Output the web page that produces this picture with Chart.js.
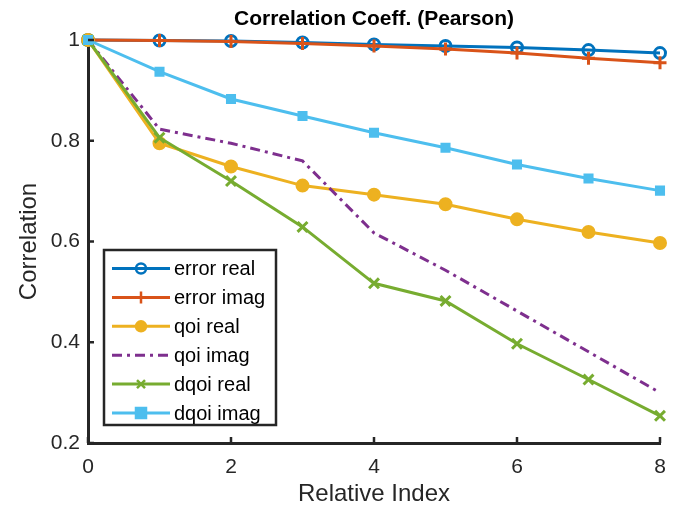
<!DOCTYPE html>
<html>
<head>
<meta charset="utf-8">
<script src="https://cdn.jsdelivr.net/npm/chart.js"></script>
<style>
  html, body { margin: 0; padding: 0; background: #fff; }
  #wrap { width: 678px; height: 514px; }
</style>
</head>
<body>
<div id="wrap"><canvas id="chart" width="678" height="514"></canvas></div>
<script>
const X_VALUES = [0, 1, 2, 3, 4, 5, 6, 7, 8];
const X_TICKS = [0, 2, 4, 6, 8];
const Y_TICKS = [0.2, 0.4, 0.6, 0.8, 1];

const ERROR_REAL = [1, 0.999, 0.998, 0.995, 0.991, 0.988, 0.985, 0.98, 0.974];
const ERROR_IMAG = [1, 0.999, 0.997, 0.993, 0.988, 0.982, 0.974, 0.964, 0.955];
const QOI_REAL = [1, 0.795, 0.749, 0.711, 0.693, 0.674, 0.644, 0.619, 0.597];
const QOI_IMAG = [1, 0.823, 0.795, 0.76, 0.617, 0.543, 0.462, 0.381, 0.3];
const DQOI_REAL = [1, 0.806, 0.72, 0.629, 0.517, 0.482, 0.397, 0.326, 0.254];
const DQOI_IMAG = [1, 0.937, 0.883, 0.849, 0.816, 0.786, 0.753, 0.725, 0.701];

const SERIES_NAMES = ["error real", "error imag", "qoi real", "qoi imag", "dqoi real", "dqoi imag"];

const AXIS_COLOR = "#262626";
const FONT = "'Liberation Sans', Arial, Helvetica, sans-serif";

const toPoints = (values) => values.map((y, i) => ({ x: X_VALUES[i], y }));

const STYLES = [
  { color: "#0072BD", marker: "circle", fill: false, r: 5.5 },
  { color: "#D95319", marker: "cross", fill: false, r: 6.5 },
  { color: "#EDB120", marker: "circle", fill: true, r: 5.5 },
  { color: "#7E2F8E", marker: false, dash: [10, 5, 3, 5] },
  { color: "#77AC30", marker: "crossRot", fill: false, r: 7 },
  { color: "#4DBEEE", marker: "rect", fill: true, r: 5 },
];

const SERIES = [ERROR_REAL, ERROR_IMAG, QOI_REAL, QOI_IMAG, DQOI_REAL, DQOI_IMAG];

const datasets = SERIES.map((values, i) => {
  const s = STYLES[i];
  return {
    label: SERIES_NAMES[i],
    data: toPoints(values),
    borderColor: s.color,
    backgroundColor: s.color,
    borderWidth: 3,
    borderDash: s.dash || [],
    pointStyle: s.marker || false,
    pointRadius: s.marker ? s.r : 0,
    pointBorderWidth: 3,
    pointBackgroundColor: s.fill ? s.color : "rgba(0,0,0,0)",
    pointBorderColor: s.color,
    tension: 0,
    clip: false,
    order: SERIES.length - 1 - i,
  };
});

// draw one marker, used by the legend
const drawMarker = (ctx, s, x, y) => {
  if (!s.marker) return;
  ctx.save();
  ctx.strokeStyle = s.color;
  ctx.fillStyle = s.color;
  ctx.lineWidth = 2.5;
  ctx.setLineDash([]);
  ctx.beginPath();
  if (s.marker === "circle") {
    ctx.arc(x, y, 5, 0, Math.PI * 2);
    if (s.fill) ctx.fill();
    ctx.stroke();
  } else if (s.marker === "cross") {
    ctx.moveTo(x - 6, y); ctx.lineTo(x + 6, y);
    ctx.moveTo(x, y - 6); ctx.lineTo(x, y + 6);
    ctx.stroke();
  } else if (s.marker === "crossRot") {
    ctx.moveTo(x - 4, y - 4); ctx.lineTo(x + 4, y + 4);
    ctx.moveTo(x + 4, y - 4); ctx.lineTo(x - 4, y + 4);
    ctx.stroke();
  } else if (s.marker === "rect") {
    ctx.rect(x - 5, y - 5, 10, 10);
    ctx.fill();
    ctx.stroke();
  }
  ctx.restore();
};

const decorPlugin = {
  id: "decor",
  afterDraw(chart) {
    const { ctx, chartArea, scales } = chart;
    const xs = scales.x;
    const ys = scales.y;

    // inward tick marks
    ctx.save();
    ctx.strokeStyle = AXIS_COLOR;
    ctx.lineWidth = 2.5;
    ctx.beginPath();
    X_TICKS.forEach((v) => {
      const px = xs.getPixelForValue(v);
      ctx.moveTo(px, chartArea.bottom);
      ctx.lineTo(px, chartArea.bottom - 6);
    });
    Y_TICKS.forEach((v) => {
      const py = ys.getPixelForValue(v);
      ctx.moveTo(chartArea.left, py);
      ctx.lineTo(chartArea.left + 6, py);
    });
    ctx.stroke();
    ctx.restore();

    // title centred over the plot
    ctx.save();
    ctx.fillStyle = "#000";
    ctx.font = `bold 21px ${FONT}`;
    ctx.textAlign = "center";
    ctx.textBaseline = "middle";
    ctx.fillText("Correlation Coeff. (Pearson)", (chartArea.left + chartArea.right) / 2, 19);
    ctx.restore();

    // legend box
    const box = { x: 104, y: 250, w: 172, h: 175 };
    ctx.save();
    ctx.fillStyle = "#fff";
    ctx.fillRect(box.x, box.y, box.w, box.h);
    ctx.strokeStyle = AXIS_COLOR;
    ctx.lineWidth = 2.5;
    ctx.strokeRect(box.x, box.y, box.w, box.h);
    ctx.font = `20px ${FONT}`;
    ctx.textBaseline = "middle";
    SERIES_NAMES.forEach((name, i) => {
      const s = STYLES[i];
      const y = 268.5 + i * 28.9;
      ctx.strokeStyle = s.color;
      ctx.lineWidth = 3;
      ctx.setLineDash(s.dash || []);
      ctx.beginPath();
      ctx.moveTo(112, y);
      ctx.lineTo(170, y);
      ctx.stroke();
      ctx.setLineDash([]);
      drawMarker(ctx, s, 141, y);
      ctx.fillStyle = "#000";
      ctx.fillText(name, 174, y + 1);
    });
    ctx.restore();
  },
};

new Chart(document.getElementById("chart"), {
  type: "line",
  data: { datasets },
  plugins: [decorPlugin],
  options: {
    responsive: false,
    animation: false,
    devicePixelRatio: 1,
    layout: { padding: { top: 40, right: 18, left: 0, bottom: 0 } },
    plugins: {
      legend: { display: false },
      title: { display: false },
      tooltip: { enabled: false },
    },
    scales: {
      x: {
        type: "linear",
        min: 0,
        max: 8,
        afterFit: (scale) => { scale.height = 71; },
        afterBuildTicks: (scale) => { scale.ticks = X_TICKS.map((v) => ({ value: v })); },
        ticks: {
          color: AXIS_COLOR,
          font: { family: FONT, size: 21 },
          padding: 12,
          maxRotation: 0,
          callback: (v) => String(v),
        },
        grid: { display: false, drawTicks: false },
        border: { display: true, color: AXIS_COLOR, width: 3 },
        title: {
          display: true,
          text: "Relative Index",
          color: AXIS_COLOR,
          font: { family: FONT, size: 24 },
          padding: { top: 0, bottom: 5 },
        },
      },
      y: {
        type: "linear",
        min: 0.2,
        max: 1,
        afterFit: (scale) => { scale.width = 88; },
        afterBuildTicks: (scale) => { scale.ticks = Y_TICKS.map((v) => ({ value: v })); },
        ticks: {
          color: AXIS_COLOR,
          font: { family: FONT, size: 21 },
          padding: 8,
          callback: (v) => String(Math.round(v * 10) / 10),
        },
        grid: { display: false, drawTicks: false },
        border: { display: true, color: AXIS_COLOR, width: 3 },
        title: {
          display: true,
          text: "Correlation",
          color: AXIS_COLOR,
          font: { family: FONT, size: 24 },
          padding: { top: 15, bottom: 0 },
        },
      },
    },
  },
});
</script>
</body>
</html>
